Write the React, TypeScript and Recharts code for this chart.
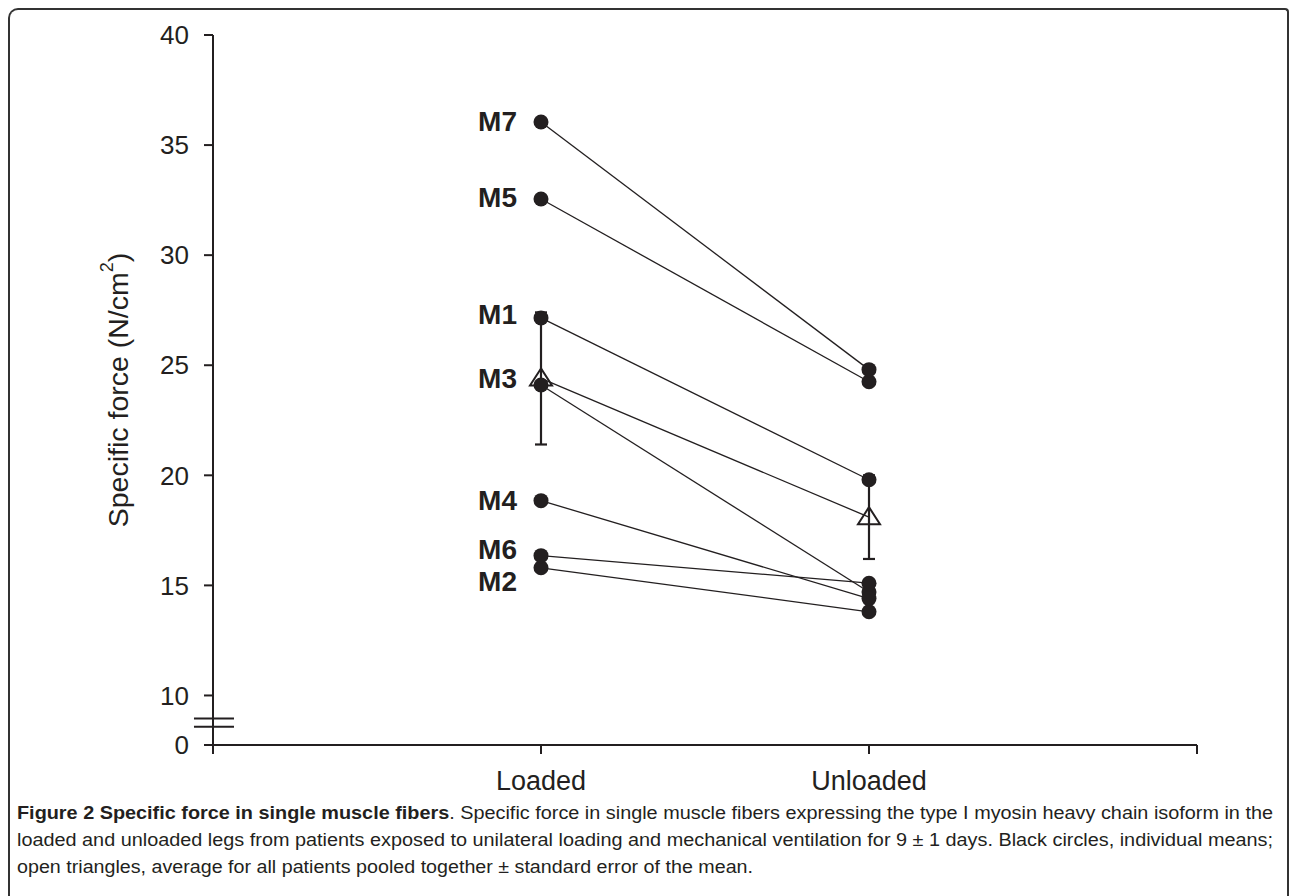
import React from "react";
import {
  ComposedChart,
  Line,
  Scatter,
  XAxis,
  YAxis,
  ReferenceLine,
  ReferenceArea,
} from "recharts";

// ---- data ----
const patients = ["M1", "M2", "M3", "M4", "M5", "M6", "M7"];
const loadedValues = [27.15, 15.8, 24.1, 18.85, 32.55, 16.35, 36.05];
const unloadedValues = [19.8, 13.8, 14.7, 14.4, 24.25, 15.1, 24.8];
const conditions = ["Loaded", "Unloaded"];
const conditionX = [1, 2];
const meanValues = [24.4, 18.1];
const semValues = [3.0, 1.9];

// axis: broken y axis; the tick labelled "0" sits at the break value
const AXIS_BREAK = 7.75;
const yTicks = [AXIS_BREAK, 10, 15, 20, 25, 30, 35, 40];
const xTicks = [0, 1, 2, 3];
const breakMarks = [8.95, 8.58];

// label vertical nudges (px) so labels don't collide
const labelDy: Record<string, number> = {
  M1: -3, M2: 14, M3: -7, M4: 0, M5: -2, M6: -6, M7: 0,
};

const INK = "#231f20";
const FONT = "'Liberation Sans', Arial, sans-serif";

const loadedData = patients.map((p, i) => ({ x: conditionX[0], y: loadedValues[i], name: p }));
const unloadedData = patients.map((p, i) => ({ x: conditionX[1], y: unloadedValues[i], name: p }));
const patientLines = patients.map((p, i) => ({
  name: p,
  data: [
    { x: conditionX[0], y: loadedValues[i] },
    { x: conditionX[1], y: unloadedValues[i] },
  ],
}));
const meanData = conditionX.map((x, i) => ({ x, y: meanValues[i] }));
const errorBarData = conditionX.map((x, i) => [
  { x, y: meanValues[i] - semValues[i] },
  { x, y: meanValues[i] + semValues[i] },
]);

const Dot = (props: any) => {
  const { cx, cy } = props;
  if (cx == null || cy == null) return null;
  return <circle cx={cx} cy={cy} r={7.5} fill={INK} />;
};

const LabeledDot = (props: any) => {
  const { cx, cy, payload } = props;
  if (cx == null || cy == null) return null;
  const name = payload?.name ?? "";
  return (
    <g>
      <circle cx={cx} cy={cy} r={7.5} fill={INK} />
      <text
        x={cx - 24}
        y={cy + (labelDy[name] ?? 0)}
        textAnchor="end"
        dominantBaseline="central"
        fontFamily={FONT}
        fontWeight="bold"
        fontSize={28}
        fill={INK}
      >
        {name}
      </text>
    </g>
  );
};

const CapDot = (props: any) => {
  const { cx, cy, index } = props;
  if (cx == null || cy == null) return <g key={index} />;
  return <line key={index} x1={cx - 6} x2={cx + 6} y1={cy} y2={cy} stroke={INK} strokeWidth={2.2} />;
};

const Triangle = (props: any) => {
  const { cx, cy } = props;
  if (cx == null || cy == null) return null;
  const pts = `${cx},${cy - 10} ${cx - 11},${cy + 7} ${cx + 11},${cy + 7}`;
  return <polygon points={pts} fill="none" stroke={INK} strokeWidth={2} strokeLinejoin="miter" />;
};

const YTitle = (props: any) => {
  const vb = props.viewBox || { x: 0, y: 0, width: 0, height: 0 };
  const cx = vb.x + vb.width - 95;
  const cy = vb.y + vb.height / 2;
  return (
    <text
      transform={`translate(${cx},${cy}) rotate(-90)`}
      textAnchor="middle"
      dominantBaseline="central"
      fontFamily={FONT}
      fontSize={28.5}
      fill={INK}
    >
      <tspan>Specific force (N/cm</tspan>
      <tspan fontSize={18} dy={-11}>2</tspan>
      <tspan dy={11}>)</tspan>
    </text>
  );
};

const captionLines = [
  {
    bold: "Figure 2 Specific force in single muscle fibers",
    text: ". Specific force in single muscle fibers expressing the type I myosin heavy chain isoform in the",
    width: 1256,
  },
  {
    bold: "",
    text: "loaded and unloaded legs from patients exposed to unilateral loading and mechanical ventilation for 9 \u00b1 1 days. Black circles, individual means;",
    width: 1256,
  },
  {
    bold: "",
    text: "open triangles, average for all patients pooled together \u00b1 standard error of the mean.",
    width: 736,
  },
];

export default function App() {
  const yTickFont = { fill: INK, fontSize: 26, fontFamily: FONT };
  const xTickFont = { fill: INK, fontSize: 27, fontFamily: FONT };
  return (
    <div style={{ position: "fixed", left: 0, top: 0, width: 1290, height: 896, background: "#fff", overflow: "hidden" }}>
      <div
        style={{
          position: "absolute",
          left: 8,
          top: 8,
          width: 1281,
          height: 940,
          borderTop: "2px solid #333",
          borderLeft: "2px solid #333",
          borderRight: "2px solid #333",
          borderRadius: "10px 4px 0 0",
          boxSizing: "border-box",
        }}
      />
      <div style={{ position: "absolute", left: 0, top: 0 }}>
        <ComposedChart width={1290} height={800} margin={{ top: 35, right: 93, bottom: 0, left: 0 }}>
          <XAxis
            type="number"
            dataKey="x"
            domain={[0, 3]}
            ticks={xTicks}
            allowDataOverflow
            interval={0}
            height={55}
            tickSize={9}
            tickMargin={17}
            tickFormatter={(v: number) => {
              const idx = conditionX.indexOf(v);
              return idx >= 0 ? conditions[idx] : "";
            }}
            tick={xTickFont}
            axisLine={{ stroke: INK, strokeWidth: 2 }}
            tickLine={{ stroke: INK, strokeWidth: 2 }}
          />
          <YAxis
            type="number"
            dataKey="y"
            domain={[AXIS_BREAK, 40]}
            ticks={yTicks}
            allowDataOverflow
            interval={0}
            width={213}
            tickSize={9}
            tickMargin={15}
            tickFormatter={(v: number) => (v === AXIS_BREAK ? "0" : String(v))}
            tick={yTickFont}
            axisLine={{ stroke: INK, strokeWidth: 2 }}
            tickLine={{ stroke: INK, strokeWidth: 2 }}
            label={{ content: YTitle }}
          />
          <ReferenceArea
            x1={-0.004}
            x2={0.004}
            y1={breakMarks[1]}
            y2={breakMarks[0]}
            fill="#fff"
            fillOpacity={1}
            stroke="none"
            ifOverflow="visible"
          />
          {breakMarks.map((b) => (
            <ReferenceLine
              key={b}
              segment={[
                { x: -0.058, y: b },
                { x: 0.064, y: b },
              ]}
              stroke={INK}
              strokeWidth={2}
              ifOverflow="visible"
            />
          ))}
          {patientLines.map((pl) => (
            <Line
              key={pl.name}
              data={pl.data}
              dataKey="y"
              stroke={INK}
              strokeWidth={1.3}
              dot={false}
              activeDot={false}
              isAnimationActive={false}
              legendType="none"
            />
          ))}
          <Line
            data={meanData}
            dataKey="y"
            stroke={INK}
            strokeWidth={1.3}
            dot={false}
            activeDot={false}
            isAnimationActive={false}
            legendType="none"
          />
          {errorBarData.map((eb, i) => (
            <Line
              key={`eb-${i}`}
              data={eb}
              dataKey="y"
              stroke={INK}
              strokeWidth={2.2}
              dot={CapDot}
              activeDot={false}
              isAnimationActive={false}
              legendType="none"
            />
          ))}
          <Scatter data={meanData} dataKey="y" shape={Triangle} isAnimationActive={false} />
          <Scatter data={loadedData} dataKey="y" shape={LabeledDot} isAnimationActive={false} />
          <Scatter data={unloadedData} dataKey="y" shape={Dot} isAnimationActive={false} />
        </ComposedChart>
      </div>
      <svg style={{ position: "absolute", left: 0, top: 0 }} width={1290} height={896}>
        {captionLines.map((ln, i) => (
          <text
            key={i}
            x={17}
            y={819 + i * 27}
            textLength={ln.width}
            lengthAdjust="spacingAndGlyphs"
            fontFamily="'Liberation Sans Narrow', 'Liberation Sans', Arial, sans-serif"
            fontSize={17.5}
            fill={INK}
          >
            {ln.bold ? <tspan fontWeight="bold">{ln.bold}</tspan> : null}
            <tspan>{ln.text}</tspan>
          </text>
        ))}
      </svg>
    </div>
  );
}
